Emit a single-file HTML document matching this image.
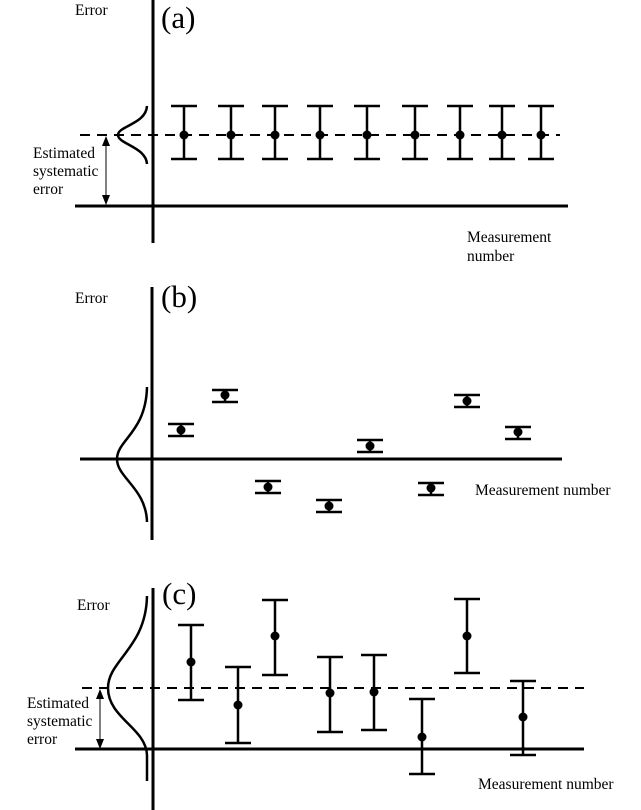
<!DOCTYPE html>
<html><head><meta charset="utf-8"><style>body{margin:0;background:#fff}svg{display:block}text{font-family:"Liberation Serif",serif;fill:#000}</style></head><body>
<svg width="641" height="810" viewBox="0 0 641 810" xmlns="http://www.w3.org/2000/svg">
<defs><marker id="ah" markerWidth="10" markerHeight="10" refX="9" refY="5" orient="auto-start-reverse" markerUnits="userSpaceOnUse"><path d="M0,1 L10,5 L0,9 z" fill="#000"/></marker></defs>
<g stroke="#000" fill="none">
<!-- panel a -->
<line x1="153" y1="0" x2="153" y2="243" stroke-width="3"/>
<line x1="75" y1="206" x2="568" y2="206" stroke-width="3"/>
<line x1="80" y1="135" x2="560" y2="135" stroke-width="2" stroke-dasharray="10,7"/>
<path d="M147,106 C146,124 118,126 118,135 C118,144 146,147 147,164" stroke-width="2.5"/>
<line x1="106" y1="137" x2="106" y2="204" stroke-width="1" marker-start="url(#ah)" marker-end="url(#ah)"/>
<!-- panel b -->
<line x1="152" y1="287" x2="152" y2="540" stroke-width="3"/>
<line x1="80" y1="459" x2="562" y2="459" stroke-width="3"/>
<path d="M147,387 C146,432 117,440 117,459 C117,478 146,488 147,522" stroke-width="2.5"/>
<!-- panel c -->
<line x1="153" y1="588" x2="153" y2="810" stroke-width="3"/>
<line x1="75" y1="749" x2="584" y2="749" stroke-width="3"/>
<line x1="82" y1="688" x2="584" y2="688" stroke-width="2" stroke-dasharray="10,7"/>
<path d="M147,596 C146,648 108,660 108,688 C108,718 146,728 147,755 L147,781" stroke-width="2.5"/>
<line x1="100" y1="690" x2="100" y2="748" stroke-width="1" marker-start="url(#ah)" marker-end="url(#ah)"/>
</g>
<g stroke="#000" stroke-width="2.5" fill="none">
<path d="M184,106V159M171,106H197M171,159H197
M231,106V159M218,106H244M218,159H244
M275,106V159M262,106H288M262,159H288
M320,106V159M307,106H333M307,159H333
M367,106V159M354,106H380M354,159H380
M415,106V159M402,106H428M402,159H428
M460,106V159M447,106H473M447,159H473
M502,106V159M489,106H515M489,159H515
M541,106V159M528,106H554M528,159H554"/>
<path d="M181,424V436M168,424H194M168,436H194
M225,390V402M212,390H238M212,402H238
M268,481V493M255,481H281M255,493H281
M329,500V512M316,500H342M316,512H342
M370,440V452M357,440H383M357,452H383
M431,483V495M418,483H444M418,495H444
M467,395V407M454,395H480M454,407H480
M518,427V439M505,427H531M505,439H531"/>
<path d="M191,625V700M178,625H204M178,700H204
M238,667V743M225,667H251M225,743H251
M275,600V675M262,600H288M262,675H288
M330,657V732M317,657H343M317,732H343
M374,655V730M361,655H387M361,730H387
M422,699V774M409,699H435M409,774H435
M467,599V673M454,599H480M454,673H480
M523,681V755M510,681H536M510,755H536"/>
</g>
<g fill="#000">
<circle cx="184" cy="135" r="4.5"/><circle cx="231" cy="135" r="4.5"/><circle cx="275" cy="135" r="4.5"/><circle cx="320" cy="135" r="4.5"/><circle cx="367" cy="135" r="4.5"/><circle cx="415" cy="135" r="4.5"/><circle cx="460" cy="135" r="4.5"/><circle cx="502" cy="135" r="4.5"/><circle cx="541" cy="135" r="4.5"/>
<circle cx="181" cy="430" r="4.5"/><circle cx="225" cy="395" r="4.5"/><circle cx="268" cy="487" r="4.5"/><circle cx="329" cy="506" r="4.5"/><circle cx="370" cy="446" r="4.5"/><circle cx="431" cy="488" r="4.5"/><circle cx="467" cy="401" r="4.5"/><circle cx="518" cy="432" r="4.5"/>
<circle cx="191" cy="662" r="4.5"/><circle cx="238" cy="705" r="4.5"/><circle cx="275" cy="636" r="4.5"/><circle cx="330" cy="693" r="4.5"/><circle cx="374" cy="692" r="4.5"/><circle cx="422" cy="737" r="4.5"/><circle cx="467" cy="636" r="4.5"/><circle cx="523" cy="717" r="4.5"/>
</g>
<g font-size="15.5">
<text x="75" y="15">Error</text>
<text x="33" y="158">Estimated</text><text x="33" y="176">systematic</text><text x="33" y="194">error</text>
<text x="467" y="242">Measurement</text><text x="467" y="261">number</text>
<text x="75" y="303">Error</text>
<text x="475" y="495">Measurement number</text>
<text x="77" y="610">Error</text>
<text x="27" y="708">Estimated</text><text x="27" y="726">systematic</text><text x="27" y="744">error</text>
<text x="478" y="789">Measurement number</text>
</g>
<g font-size="31">
<text x="161" y="28">(a)</text>
<text x="161" y="307">(b)</text>
<text x="162" y="604">(c)</text>
</g>
</svg>
</body></html>
